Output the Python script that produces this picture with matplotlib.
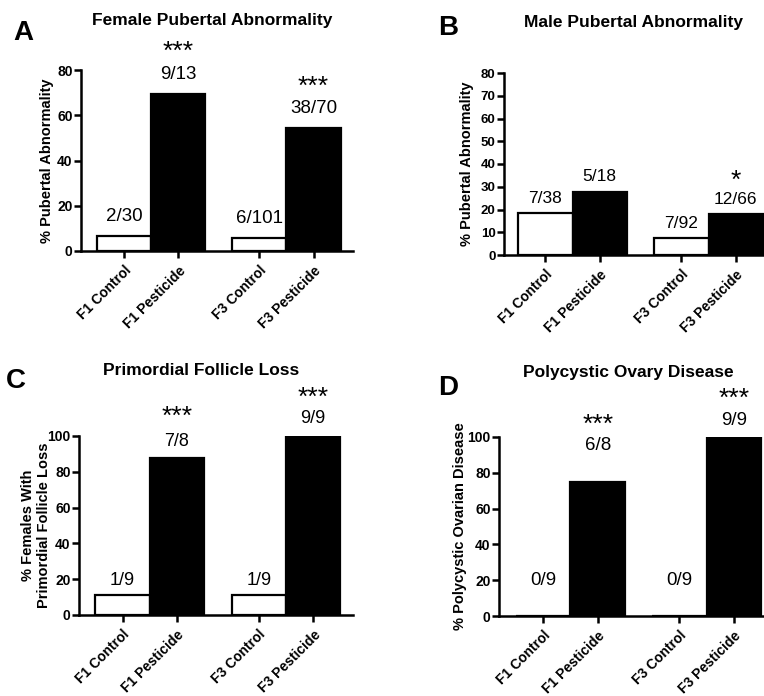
import matplotlib.pyplot as plt
from matplotlib.transforms import ScaledTranslation

plt.rcParams['font.family'] = ['Liberation Sans', 'DejaVu Sans']

groups = ["F1 Control", "F1 Pesticide", "F3 Control", "F3 Pesticide"]
positions = [0, 1, 2.5, 3.5]
colors = ["white", "black", "white", "black"]

female_pub = [6.7, 69.2, 5.9, 54.3]
female_pub_lab = ["2/30", "9/13", "6/101", "38/70"]
female_pub_star = ["", "***", "", "***"]

male_pub = [18.4, 27.8, 7.6, 18.2]
male_pub_lab = ["7/38", "5/18", "7/92", "12/66"]
male_pub_star = ["", "", "", "*"]

follicle = [11.1, 87.5, 11.1, 100]
follicle_lab = ["1/9", "7/8", "1/9", "9/9"]
follicle_star = ["", "***", "", "***"]

pcod = [0, 75, 0, 100]
pcod_lab = ["0/9", "6/8", "0/9", "9/9"]
pcod_star = ["", "***", "", "***"]

fig = plt.figure(figsize=(7.64, 6.96), dpi=100)
W, H = 764, 696


def panel(box, vals, labs, stars, ymax, ystep, ylabel, xlim, tsize, nsize, noffs, soffs, lpad):
    l, r, t, b = box
    ax = fig.add_axes([l / W, 1 - b / H, (r - l) / W, (b - t) / H])
    ax.bar(positions, vals, width=1.0, color=colors, edgecolor="black", linewidth=1.6, zorder=2)
    ax.set_xlim(*xlim)
    ax.set_ylim(0, ymax)
    ax.set_yticks(range(0, ymax + 1, ystep))
    ax.set_xticks(positions)
    ax.set_xticklabels(groups, rotation=45, ha="right", rotation_mode="anchor",
                       fontsize=10, fontweight="bold")
    shift = ScaledTranslation(-4 / 100, 0, fig.dpi_scale_trans)
    for lab in ax.get_xticklabels():
        lab.set_transform(lab.get_transform() + shift)
    for lab in ax.get_yticklabels():
        lab.set_fontweight("bold")
        lab.set_fontsize(tsize)
    for s in ["top", "right"]:
        ax.spines[s].set_visible(False)
    for s in ["left", "bottom"]:
        ax.spines[s].set_linewidth(1.8)
    ax.spines["left"].set_zorder(3)
    ax.tick_params(width=1.8, length=5, pad=1)
    ax.tick_params(axis="x", pad=4)
    ax.set_ylabel(ylabel, fontsize=10.5, fontweight="bold", labelpad=lpad)
    for x, v, n, s, no, so in zip(positions, vals, labs, stars, noffs, soffs):
        ax.annotate(n, (x, v), xytext=(0, no), textcoords="offset pixels",
                    ha="center", va="baseline", fontsize=nsize, annotation_clip=False)
        if s:
            ax.annotate(s, (x, v), xytext=(0, no + so), textcoords="offset pixels",
                        ha="center", va="baseline", fontsize=19, annotation_clip=False)
    return ax


panel((81, 353, 70, 251), female_pub, female_pub_lab, female_pub_star, 80, 20,
      "% Pubertal Abnormality", (-0.8, 4.23), 10, 13.5,
      [15, 15, 15, 15], [0, 21, 0, 19], 2)
panel((504, 764, 73, 255), male_pub, male_pub_lab, male_pub_star, 80, 10,
      "% Pubertal Abnormality", (-0.76, 4.02), 9.5, 12.5,
      [10, 11, 10, 10], [0, 0, 0, 16], 5)
panel((79, 353, 436, 615), follicle, follicle_lab, follicle_star, 100, 20,
      "% Females With\nPrimordial Follicle Loss", (-0.8, 4.23), 10, 13,
      [10, 12, 10, 13], [0, 23, 0, 18], -2.5)
panel((499, 764, 437, 616), pcod, pcod_lab, pcod_star, 100, 20,
      "% Polycystic Ovarian Disease", (-0.81, 4.05), 10, 13.5,
      [31, 32, 31, 12], [0, 18, 0, 19], 0)

titles = [(212, 20, "Female Pubertal Abnormality"), (634, 23, "Male Pubertal Abnormality"),
          (201, 370, "Primordial Follicle Loss"), (628, 373, "Polycystic Ovary Disease")]
for x, y, t in titles:
    fig.text(x / W, 1 - y / H, t, ha="center", va="center", fontsize=12.5, fontweight="bold")

letters = [(23, 33, "A"), (448, 28, "B"), (16, 381, "C"), (448, 388, "D")]
for x, y, t in letters:
    fig.text(x / W, 1 - y / H, t, ha="center", va="center", fontsize=20, fontweight="bold")

fig.savefig("out.png", dpi=100)
